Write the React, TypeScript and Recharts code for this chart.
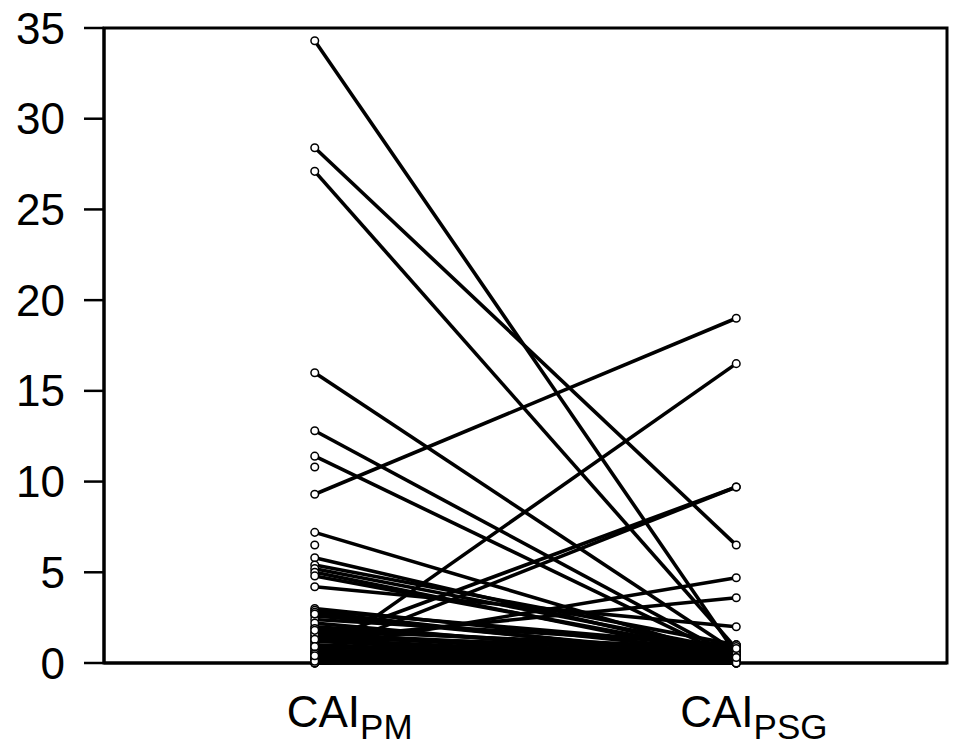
import React from "react";
import { LineChart, Line, XAxis, YAxis, ReferenceArea } from "recharts";

// paired values per subject: PM (left) and PSG (right); null = no paired value
const pmValues = [
  34.3, 28.4, 27.1, 16.0, 12.8, 11.4, 10.8, 9.3, 7.2, 6.5, 5.8, 5.4, 5.2, 5.0, 4.8, 4.2,
  3.0, 2.9, 2.8, 2.6, 2.4, 2.0, 1.7, 1.5, 1.4, 1.2, 1.1, 0.9, 0.8, 1.3, 0.6, 0.5, 0.4,
  0.2, 0.2, 0.1, 0.0, 0.0, 0.0, 0.3, 1.0, 0.7, 0.0, 0.6, 1.6, 2.2, 1.9, 1.3, 0.9, 0.5,
  0.3, 2.7, 1.8, 0.1, 0.4,
];
const psgValues = [
  0.5, 6.5, 0.8, 0.6, 0.3, 0.2, null, 19.0, 0.3, null, 0.4, 1.0, 0.7, 0.3, 0.5, 2.0,
  0.6, 0.9, 0.2, 0.4, 1.0, 0.5, 0.0, 0.3, 0.8, 0.0, 9.7, 0.4, 4.7, 3.6, 0.2, 9.7, 0.6,
  16.5, 0.0, 0.4, 0.0, 0.2, 1.0, 0.0, 0.1, 0.3, 0.7, 0.9, 0.5, 0.1, 0.6, 0.2, 0.0, 0.1,
  0.5, 0.3, 0.8, 0.0, 0.3,
];
const categoryX = [1, 3];
const categoryMain = ["CAI", "CAI"];
const categorySub = ["PM", "PSG"];
const yTicks = [0, 5, 10, 15, 20, 25, 30, 35];

const FONT = "'Liberation Sans', Arial, sans-serif";

const rows = categoryX.map((x, c) => {
  const row: Record<string, number | null> = { x };
  pmValues.forEach((v, i) => {
    row[`s${i}`] = c === 0 ? v : psgValues[i];
  });
  return row;
});

function OpenDot(props: any) {
  const { cx, cy, index, dataKey } = props;
  const k = `${dataKey}-${index}`;
  if (cx == null || cy == null || props.value == null) return <g key={k} />;
  return <circle key={k} cx={cx} cy={cy} r={3.8} fill="#fff" stroke="#000" strokeWidth={1.5} />;
}

function CategoryTick(props: any) {
  const { x, y, payload } = props;
  const idx = categoryX.indexOf(payload.value);
  const shift = idx === 0 ? -28 : -56;
  return (
    <text x={x + shift} y={y + 64} fontFamily={FONT} fontSize={44} fill="#000" textAnchor="start">
      <tspan>{categoryMain[idx]}</tspan>
      <tspan fontSize={35} dy={12}>{categorySub[idx]}</tspan>
    </text>
  );
}

export default function App() {
  const keys = pmValues.map((_, i) => `s${i}`);
  return (
    <div style={{ position: "absolute", left: 0, top: 0, background: "#fff" }}>
      <LineChart width={956} height={747} data={rows} margin={{ top: 28, right: 9, bottom: 0, left: 0 }}>
        <XAxis
          dataKey="x"
          type="number"
          domain={[0, 4]}
          ticks={categoryX}
          height={84}
          tickSize={0}
          tickMargin={0}
          axisLine={{ stroke: "#000", strokeWidth: 3 }}
          tick={<CategoryTick />}
        />
        <YAxis
          type="number"
          domain={[0, 35]}
          ticks={yTicks}
          width={104}
          tickSize={20}
          tickMargin={19}
          axisLine={{ stroke: "#000", strokeWidth: 3 }}
          tickLine={{ stroke: "#000", strokeWidth: 2.5 }}
          tick={{ fill: "#000", fontSize: 44, fontFamily: FONT }}
        />
        <ReferenceArea x1={0} x2={4} y1={0} y2={35} fill="none" stroke="#000" strokeWidth={3} ifOverflow="visible" />
        {keys.map((k) => (
          <Line
            key={k}
            dataKey={k}
            stroke="#000"
            strokeWidth={3.6}
            dot={false}
            activeDot={false}
            isAnimationActive={false}
          />
        ))}
        {keys.map((k) => (
          <Line
            key={`d-${k}`}
            dataKey={k}
            stroke="none"
            strokeWidth={0}
            dot={<OpenDot />}
            activeDot={false}
            isAnimationActive={false}
          />
        ))}
      </LineChart>
    </div>
  );
}
